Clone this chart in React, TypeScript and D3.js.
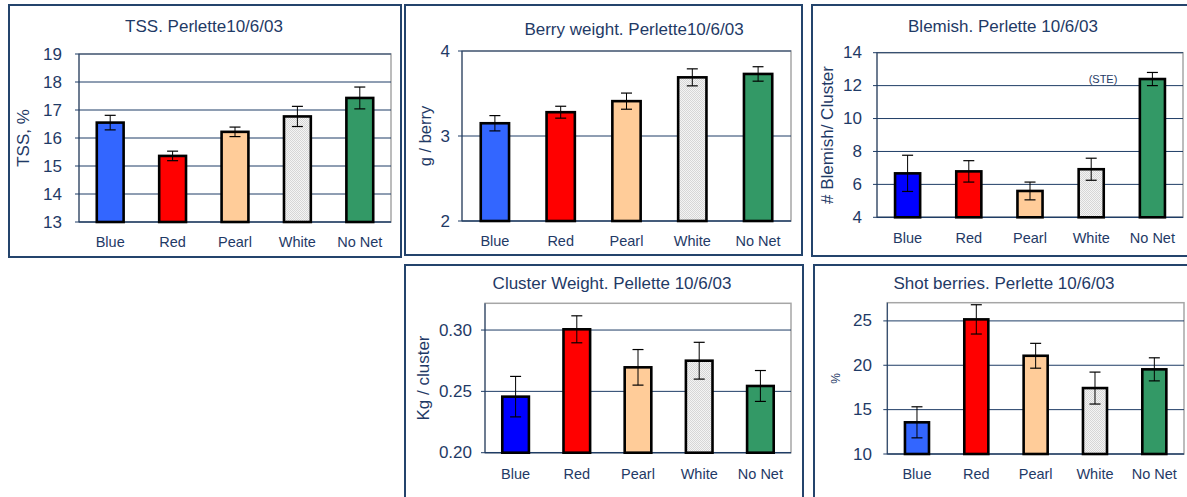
import React from "react";
import * as d3 from "d3";

const categories = ["Blue", "Red", "Pearl", "White", "No Net"];

const tssValues = [16.55, 15.36, 16.22, 16.77, 17.43];
const tssErrors = [0.26, 0.17, 0.17, 0.36, 0.39];
const tssTicks = [13, 14, 15, 16, 17, 18, 19];

const berryValues = [3.15, 3.28, 3.41, 3.69, 3.73];
const berryErrors = [0.09, 0.07, 0.095, 0.1, 0.085];
const berryTicks = [2, 3, 4];

const blemishValues = [6.67, 6.79, 5.6, 6.92, 12.4];
const blemishErrors = [1.1, 0.65, 0.54, 0.67, 0.4];
const blemishTicks = [4, 6, 8, 10, 12, 14];

const clusterValues = [0.2457, 0.3006, 0.2696, 0.275, 0.2544];
const clusterErrors = [0.0165, 0.011, 0.0145, 0.015, 0.0126];
const clusterTicks = [0.2, 0.25, 0.3];

const shotValues = [13.57, 25.17, 21.07, 17.43, 19.54];
const shotErrors = [1.75, 1.65, 1.4, 1.8, 1.3];
const shotTicks = [10, 15, 20, 25];

const TEXT = "#1F3A66";
const GRID = "#1F3D66";
const FONT = "'Liberation Sans', Arial, sans-serif";

type Panel = {
  key: string;
  box: [number, number, number, number];
  plot: { l: number; r: number; t: number; b: number };
  domain: [number, number];
  ticks: number[];
  fmt: (d: number) => string;
  values: number[];
  errors: number[];
  title: string;
  titleX: number;
  titleY: number;
  yTitle: string;
  yTitleX: number;
  yTitleSize: number;
  tickRight: number;
  xLabelY: number;
  barFrac: number;
  blue: string;
  note?: { text: string; x: number; y: number };
};

const panels: Panel[] = [
  {
    key: "tss",
    box: [9, 5, 401, 257],
    plot: { l: 79, r: 391, t: 54, b: 222 },
    domain: [13, 19],
    ticks: tssTicks,
    fmt: (d) => String(d),
    values: tssValues,
    errors: tssErrors,
    title: "TSS. Perlette10/6/03",
    titleX: 204,
    titleY: 26,
    yTitle: "TSS, %",
    yTitleX: 23,
    yTitleSize: 17,
    tickRight: 62,
    xLabelY: 242,
    barFrac: 0.43,
    blue: "#3366FF",
  },
  {
    key: "berry",
    box: [405, 5, 802, 255],
    plot: { l: 462, r: 791, t: 51, b: 221 },
    domain: [2, 4],
    ticks: berryTicks,
    fmt: (d) => String(d),
    values: berryValues,
    errors: berryErrors,
    title: "Berry weight. Perlette10/6/03",
    titleX: 634,
    titleY: 29,
    yTitle: "g / berry",
    yTitleX: 425,
    yTitleSize: 16.5,
    tickRight: 450,
    xLabelY: 241,
    barFrac: 0.43,
    blue: "#3366FF",
  },
  {
    key: "blemish",
    box: [812, 5, 1195, 256],
    plot: { l: 877, r: 1183, t: 52.7, b: 217.3 },
    domain: [4, 14],
    ticks: blemishTicks,
    fmt: (d) => String(d),
    values: blemishValues,
    errors: blemishErrors,
    title: "Blemish. Perlette 10/6/03",
    titleX: 1003,
    titleY: 26,
    yTitle: "# Blemish/ Cluster",
    yTitleX: 827,
    yTitleSize: 17,
    tickRight: 862,
    xLabelY: 237.5,
    barFrac: 0.41,
    blue: "#0000FF",
    note: { text: "(STE)", x: 1103, y: 79 },
  },
  {
    key: "cluster",
    box: [405, 265, 803, 505],
    plot: { l: 485, r: 791, t: 303.3, b: 452.7 },
    domain: [0.2, 0.3218],
    ticks: clusterTicks,
    fmt: (d) => d3.format(".2f")(d),
    values: clusterValues,
    errors: clusterErrors,
    title: "Cluster Weight. Pellette 10/6/03",
    titleX: 612,
    titleY: 283.5,
    yTitle: "Kg / cluster",
    yTitleX: 423,
    yTitleSize: 17,
    tickRight: 472,
    xLabelY: 473.5,
    barFrac: 0.435,
    blue: "#0000FF",
  },
  {
    key: "shot",
    box: [814, 265, 1195, 505],
    plot: { l: 887.3, r: 1184, t: 302.7, b: 454 },
    domain: [10, 27.05],
    ticks: shotTicks,
    fmt: (d) => String(d),
    values: shotValues,
    errors: shotErrors,
    title: "Shot berries. Perlette 10/6/03",
    titleX: 1004,
    titleY: 283.5,
    yTitle: "%",
    yTitleX: 836,
    yTitleSize: 12,
    tickRight: 872,
    xLabelY: 473.5,
    barFrac: 0.405,
    blue: "#3366FF",
  },
];

function fillFor(cat: string, blue: string) {
  switch (cat) {
    case "Blue":
      return blue;
    case "Red":
      return "#FF0000";
    case "Pearl":
      return "#FFCC99";
    case "White":
      return "url(#whitePattern)";
    default:
      return "#339966";
  }
}

function ChartPanel({ p }: { p: Panel }) {
  const x = d3
    .scaleBand<string>()
    .domain(categories)
    .range([p.plot.l, p.plot.r])
    .paddingInner(0)
    .paddingOuter(0);
  const y = d3.scaleLinear().domain(p.domain).range([p.plot.b, p.plot.t]);
  const bw = x.bandwidth() * p.barFrac;
  const [bx0, by0, bx1, by1] = p.box;
  const yTitleY = (p.plot.t + p.plot.b) / 2;
  return (
    <g>
      <rect
        x={bx0}
        y={by0}
        width={bx1 - bx0}
        height={by1 - by0}
        fill="#ffffff"
        stroke="#24446C"
        strokeWidth={2}
      />
      <text
        x={p.titleX}
        y={p.titleY}
        textAnchor="middle"
        dominantBaseline="central"
        fontSize={17}
        fill={TEXT}
        fontFamily={FONT}
      >
        {p.title}
      </text>
      <rect
        x={p.plot.l}
        y={p.plot.t}
        width={p.plot.r - p.plot.l}
        height={p.plot.b - p.plot.t}
        fill="#ffffff"
        stroke="#A6A6A6"
        strokeWidth={1.5}
      />
      {p.ticks.map((t) => (
        <g key={t}>
          <line
            x1={p.plot.l - 4}
            x2={p.plot.r}
            y1={y(t)}
            y2={y(t)}
            stroke={GRID}
            strokeWidth={1}
          />
          <text
            x={p.tickRight}
            y={y(t)}
            textAnchor="end"
            dominantBaseline="central"
            fontSize={17}
            fill={TEXT}
            fontFamily={FONT}
          >
            {p.fmt(t)}
          </text>
        </g>
      ))}
      <line
        x1={p.plot.l}
        x2={p.plot.l}
        y1={p.plot.t}
        y2={p.plot.b}
        stroke={GRID}
        strokeWidth={1}
      />
      <line
        x1={p.plot.l}
        x2={p.plot.r}
        y1={p.plot.b}
        y2={p.plot.b}
        stroke={GRID}
        strokeWidth={1.2}
      />
      {categories.map((c, i) => {
        const cx = (x(c) as number) + x.bandwidth() / 2;
        const v = p.values[i];
        const e = p.errors[i];
        const top = y(v);
        return (
          <g key={c}>
            <rect
              x={cx - bw / 2}
              y={top}
              width={bw}
              height={p.plot.b - top}
              fill={fillFor(c, p.blue)}
              stroke="#000000"
              strokeWidth={2.6}
            />
            <line x1={cx} x2={cx} y1={y(v + e)} y2={y(v - e)} stroke="#000" strokeWidth={1} />
            <line x1={cx - 5.5} x2={cx + 5.5} y1={y(v + e)} y2={y(v + e)} stroke="#000" strokeWidth={1.2} />
            <line x1={cx - 5.5} x2={cx + 5.5} y1={y(v - e)} y2={y(v - e)} stroke="#000" strokeWidth={1.2} />
            <text
              x={cx}
              y={p.xLabelY}
              textAnchor="middle"
              dominantBaseline="central"
              fontSize={14.5}
              fill={TEXT}
              fontFamily={FONT}
            >
              {c}
            </text>
          </g>
        );
      })}
      <text
        transform={`translate(${p.yTitleX},${yTitleY}) rotate(-90)`}
        textAnchor="middle"
        dominantBaseline="central"
        fontSize={p.yTitleSize}
        fill={TEXT}
        fontFamily={FONT}
      >
        {p.yTitle}
      </text>
      {p.note && (
        <text
          x={p.note.x}
          y={p.note.y}
          textAnchor="middle"
          dominantBaseline="central"
          fontSize={11}
          fill={TEXT}
          fontFamily={FONT}
        >
          {p.note.text}
        </text>
      )}
    </g>
  );
}

export default function App() {
  return (
    <div style={{ position: "absolute", left: 0, top: 0 }}>
      <svg width={1187} height={497} style={{ display: "block" }}>
        <defs>
          <pattern id="whitePattern" width={2} height={2} patternUnits="userSpaceOnUse">
            <rect width={2} height={2} fill="#F4F4F4" />
            <rect width={1} height={1} fill="#D6D6D6" />
            <rect x={1} y={1} width={1} height={1} fill="#D6D6D6" />
          </pattern>
        </defs>
        <rect width={1187} height={497} fill="#ffffff" />
        {panels.map((p) => (
          <ChartPanel key={p.key} p={p} />
        ))}
      </svg>
    </div>
  );
}
